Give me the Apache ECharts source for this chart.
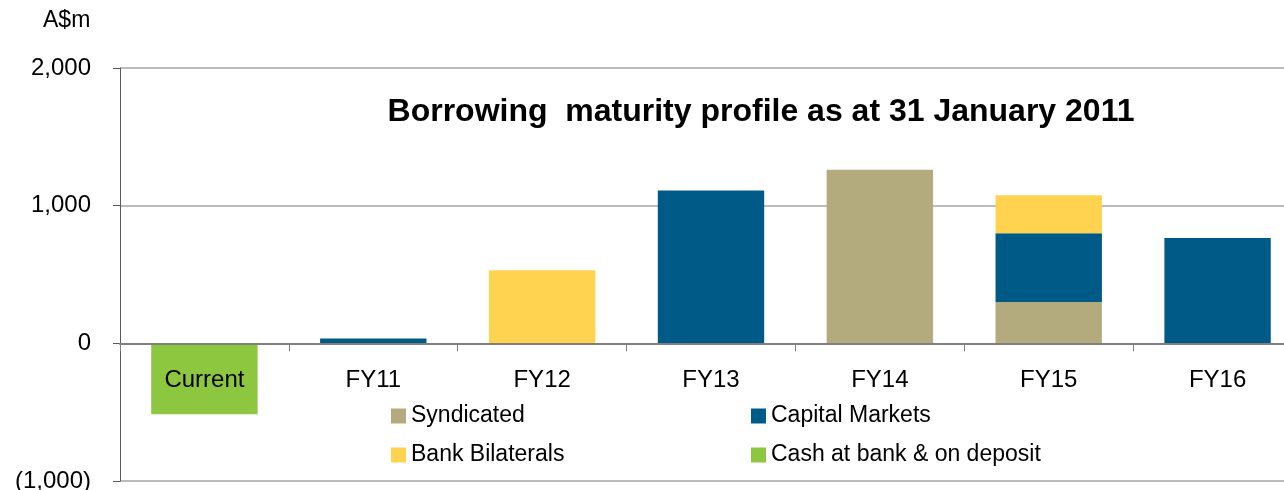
<!DOCTYPE html>
<html>
<head>
<meta charset="utf-8">
<script src="https://cdn.jsdelivr.net/npm/echarts@6/dist/echarts.min.js"></script>
<style>
html,body{margin:0;padding:0;background:#fff;}
#chart{width:1284px;height:490px;}
</style>
</head>
<body>
<div id="chart"></div>
<script>
const categories = ['Current', 'FY11', 'FY12', 'FY13', 'FY14', 'FY15', 'FY16'];
const syndicated = [0, 0, 0, 0, 1260, 300, 0];
const capitalMarkets = [0, 35, 0, 1110, 0, 500, 765];
const bankBilaterals = [0, 0, 530, 0, 0, 275, 0];
const cashAtBank = [-515, 0, 0, 0, 0, 0, 0];
const yTicks = { min: -1000, max: 2000, interval: 1000 };
const chartTitle = 'Borrowing  maturity profile as at 31 January 2011';
const unitLabel = 'A$m';

const FONT = '"Liberation Sans", Arial, sans-serif';
const chart = echarts.init(document.getElementById('chart'));

function fmt(v) {
  const s = Math.abs(v).toLocaleString('en-US');
  return v < 0 ? '(' + s + ')' : s;
}
function nz(arr) { return arr.map(v => v === 0 ? '-' : v); }

const GRID_TOP = 68, GRID_BOTTOM_PX = 481;
const zeroOffset = -(GRID_BOTTOM_PX - GRID_TOP) * (0 - yTicks.min) / (yTicks.max - yTicks.min);

chart.setOption({
  animation: false,
  backgroundColor: '#ffffff',
  textStyle: { fontFamily: FONT },
  title: {
    text: chartTitle,
    left: 756, top: 91, textAlign: 'center',
    textStyle: { fontFamily: FONT, fontSize: 32, fontWeight: 'bold', color: '#000' }
  },
  graphic: [{
    type: 'text', left: 43, top: 9,
    style: { text: unitLabel, font: '23px ' + FONT, fill: '#000' }
  }],
  legend: [{
    left: 386, top: 399, orient: 'vertical',
    icon: 'rect', itemWidth: 15, itemHeight: 15, itemGap: 15,
    textStyle: { fontFamily: FONT, fontSize: 23, color: '#000', lineHeight: 24 },
    data: ['Syndicated', 'Bank Bilaterals']
  }, {
    left: 746, top: 399, orient: 'vertical',
    icon: 'rect', itemWidth: 15, itemHeight: 15, itemGap: 15,
    textStyle: { fontFamily: FONT, fontSize: 23, color: '#000', lineHeight: 24 },
    data: ['Capital Markets', 'Cash at bank & on deposit']
  }],
  grid: { left: 120, right: -18, top: GRID_TOP, bottom: 490 - GRID_BOTTOM_PX, containLabel: false, outerBoundsMode: 'none' },
  xAxis: {
    type: 'category', data: categories, z: 10,
    position: 'bottom', offset: zeroOffset,
    axisLine: { onZero: false, lineStyle: { color: '#7f7f7f', width: 2 } },
    axisTick: { show: true, length: 8, lineStyle: { color: '#7f7f7f', width: 1 } },
    axisLabel: { fontFamily: FONT, fontSize: 24, color: '#000', margin: 25 },
    splitLine: { show: false }
  },
  yAxis: {
    type: 'value', min: yTicks.min, max: yTicks.max, interval: yTicks.interval,
    axisLine: { show: true, lineStyle: { color: '#595959', width: 1 } },
    axisTick: { show: true, length: 7, lineStyle: { color: '#595959' } },
    axisLabel: { fontFamily: FONT, fontSize: 24, color: '#000', margin: 29, formatter: fmt },
    splitLine: { show: true, lineStyle: { color: '#a6a6a6', width: 1.5 } }
  },
  series: [
    { name: 'Syndicated', type: 'bar', stack: 'total', data: nz(syndicated),
      barCategoryGap: '37%', itemStyle: { color: '#B3AA7E' } },
    { name: 'Capital Markets', type: 'bar', stack: 'total', data: nz(capitalMarkets),
      itemStyle: { color: '#005A87' } },
    { name: 'Bank Bilaterals', type: 'bar', stack: 'total', data: nz(bankBilaterals),
      itemStyle: { color: '#FFD350' } },
    { name: 'Cash at bank & on deposit', type: 'bar', stack: 'total', data: nz(cashAtBank),
      itemStyle: { color: '#8DC63F' } }
  ]
});
</script>
</body>
</html>
